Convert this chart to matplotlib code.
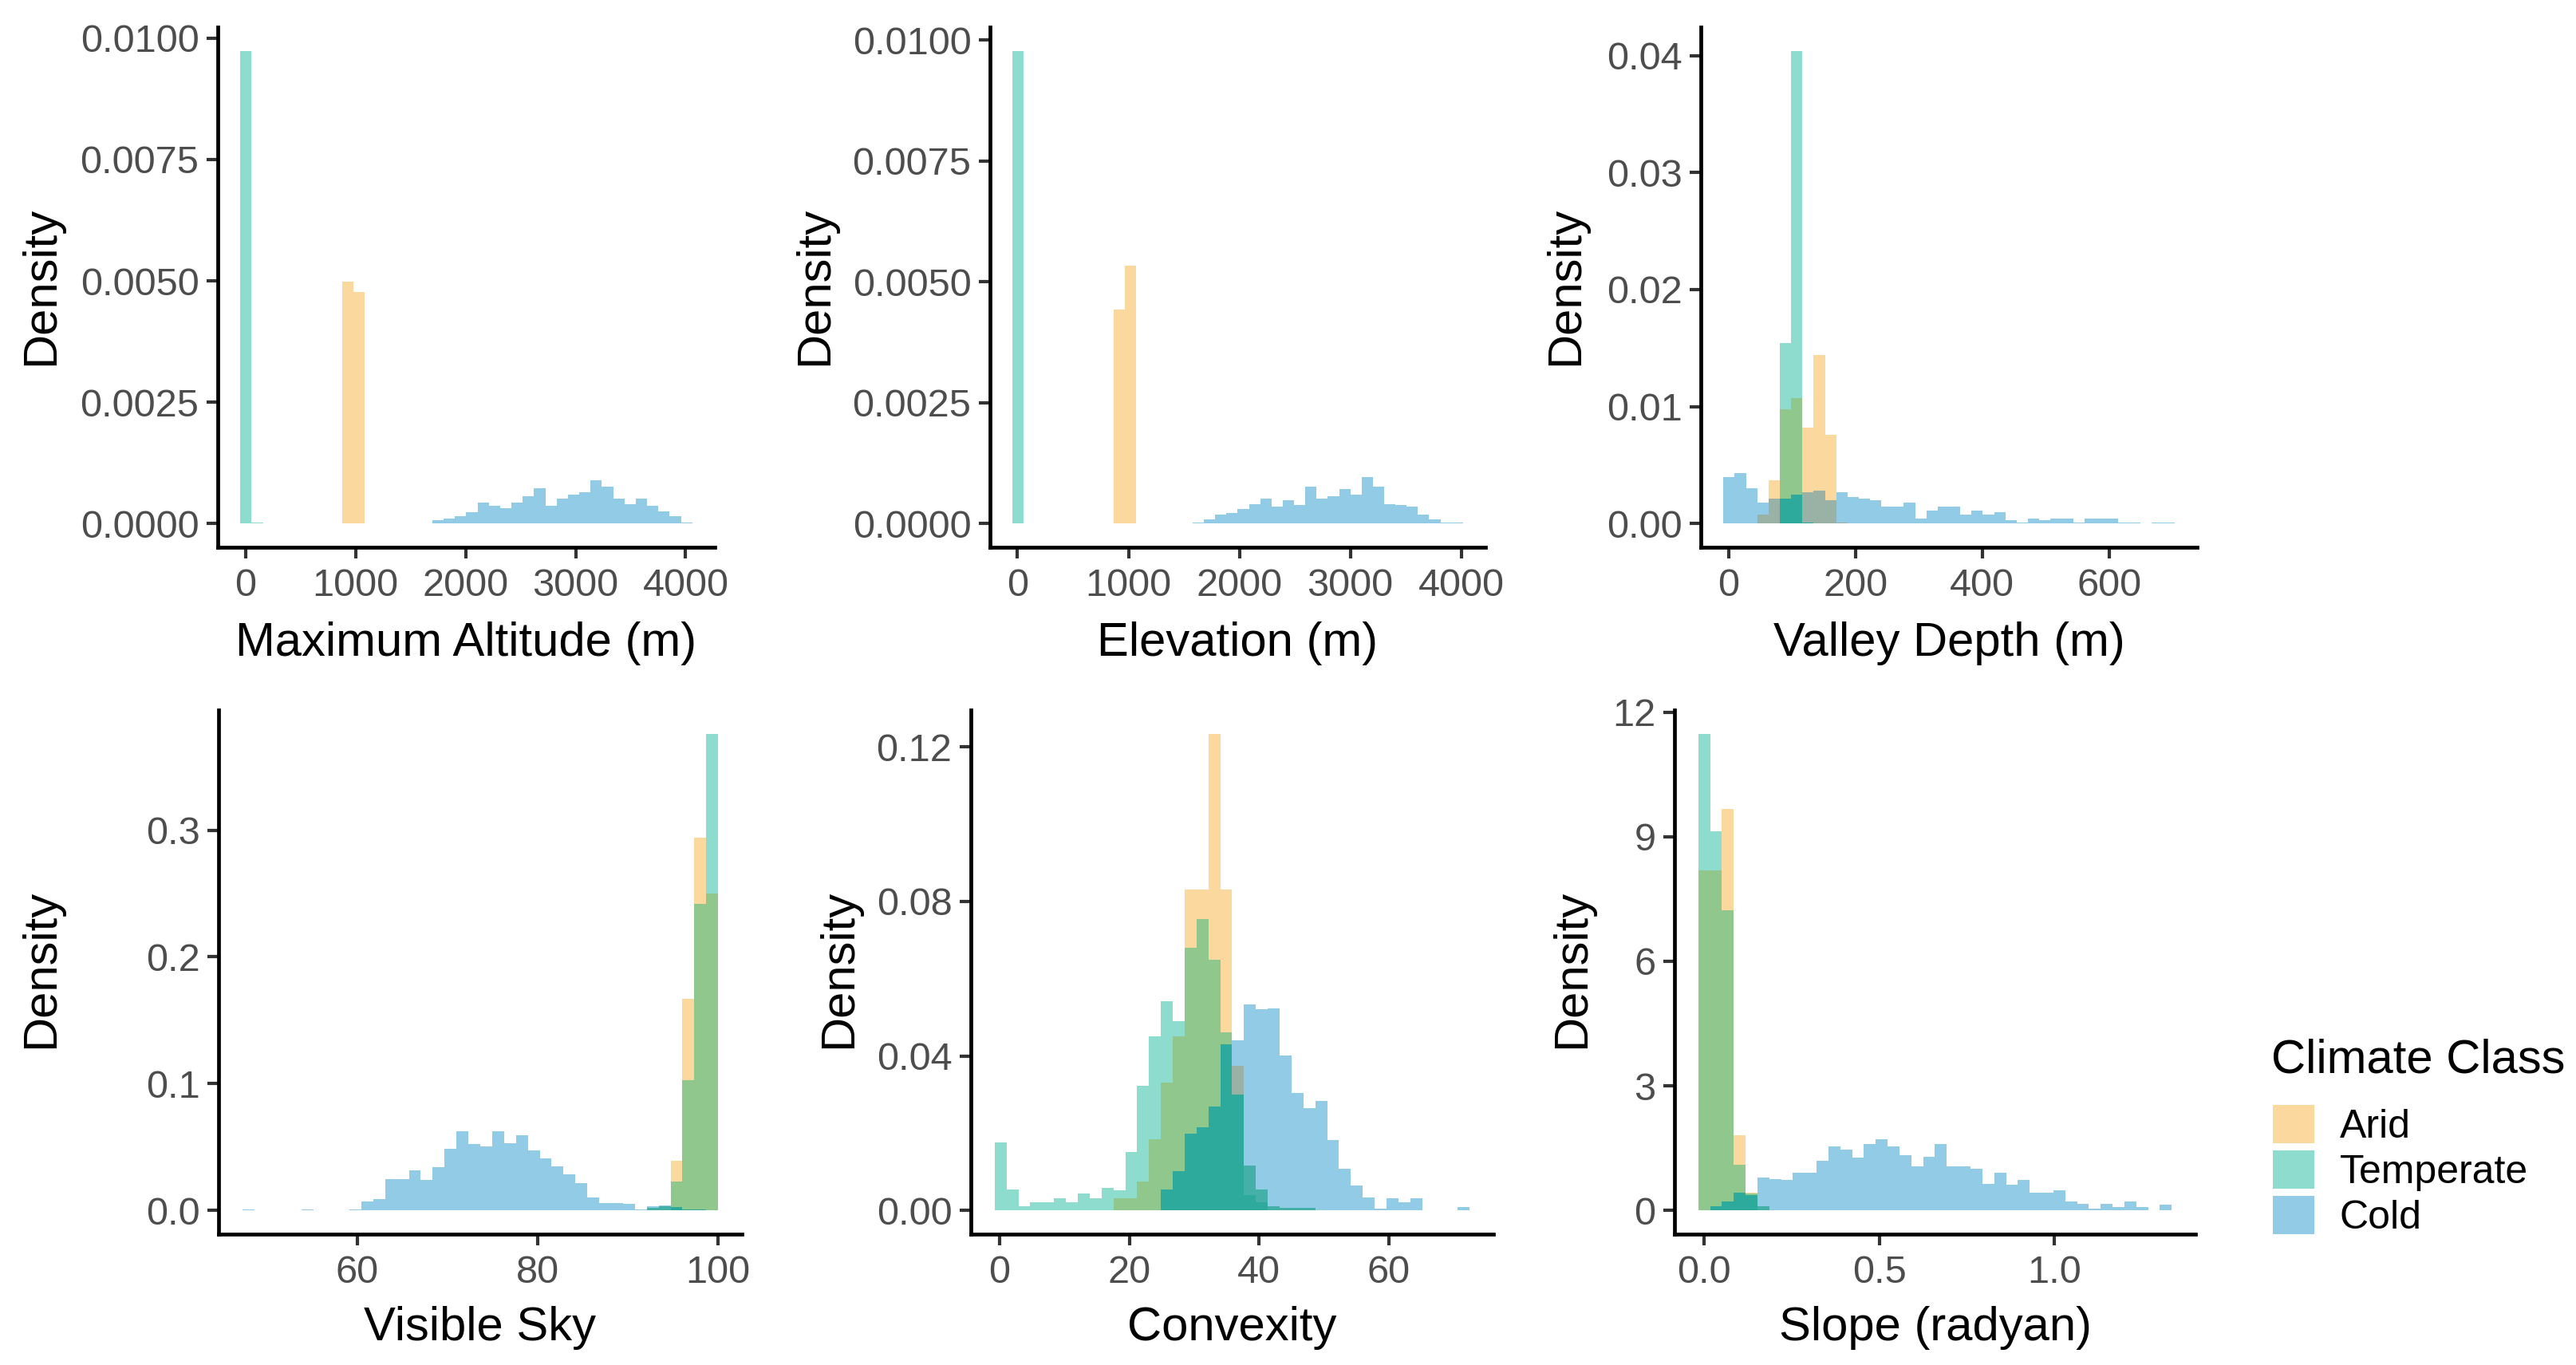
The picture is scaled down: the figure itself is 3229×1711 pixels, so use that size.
import matplotlib

matplotlib.use("Agg")

import matplotlib.pyplot as plt
import numpy as np
from matplotlib.patches import Patch

plt.rcParams["font.family"] = ["Liberation Sans", "DejaVu Sans"]

# ---- data: densities per bin (40 bins per panel) ----
classes = ["Arid", "Temperate", "Cold"]

# Maximum Altitude (m)
alt_range = (-48, 4060)
alt_arid = [0] * 9 + [0.00499, 0.00477] + [0] * 29
alt_temperate = [0.00974, 0.00003] + [0] * 38
alt_cold = [0] * 17 + [0.000066, 0.0001, 0.00015, 0.00024, 0.00043, 0.00036, 0.00032, 0.00043,
                       0.00056, 0.00073, 0.00036, 0.00052, 0.0006, 0.00065, 0.00089, 0.00077,
                       0.00052, 0.0004, 0.00052, 0.00036, 0.00026, 0.00015, 0.00002]

# Elevation (m)
elev_range = (-45, 4015)
elev_arid = [0] * 9 + [0.00443, 0.00533] + [0] * 29
elev_temperate = [0.00978] + [0] * 39
elev_cold = [0] * 16 + [0.00002, 0.00009, 0.00018, 0.00022, 0.0003, 0.0004, 0.00052, 0.00036,
                        0.00048, 0.00039, 0.00076, 0.00052, 0.00056, 0.00072, 0.0006, 0.00097,
                        0.00076, 0.0004, 0.00038, 0.00036, 0.00018, 0.00009, 0.00002, 0.00002]

# Valley Depth (m)
valley_range = (-8, 703)
valley_arid = [0, 0, 0, 0.0008, 0.0037, 0.0098, 0.0107, 0.0082, 0.01444, 0.0076, 0.0001] + [0] * 29
valley_temperate = [0, 0, 0, 0, 0, 0.01546, 0.0404, 0.0001] + [0] * 32
valley_cold = [0.004, 0.00435, 0.003, 0.0018, 0.00215, 0.00215, 0.0025, 0.0027, 0.0028, 0.002,
               0.0027, 0.0023, 0.00215, 0.002, 0.00147, 0.00147, 0.0018, 0.00045, 0.0011, 0.00147,
               0.00147, 0.0008, 0.0011, 0.0008, 0.001, 0.00027, 0.0001, 0.00045, 0.00027, 0.00045,
               0.00045, 0.0001, 0.00045, 0.00045, 0.00045, 0.0001, 0.0001, 0, 0.0001, 0.0001]

# Visible Sky
sky_range = (47.25, 100.05)
sky_arid = [0] * 36 + [0.039, 0.167, 0.294, 0.25]
sky_temperate = [0] * 34 + [0.002, 0.003, 0.0226, 0.103, 0.242, 0.376]
sky_cold = [0.0008, 0, 0, 0, 0, 0.0008, 0, 0, 0, 0.0008,
            0.007, 0.0087, 0.0244, 0.0244, 0.0313, 0.0237, 0.0338, 0.0487, 0.0627, 0.0522,
            0.0505, 0.0627, 0.0529, 0.0592, 0.047, 0.0407, 0.0348, 0.0285, 0.0216, 0.0104,
            0.0059, 0.0059, 0.0052, 0.0007, 0.003, 0.004, 0.0024, 0.001, 0.0007, 0.0003]

# Convexity
conv_range = (-0.75, 72.45)
conv_arid = [0] * 10 + [0.0032, 0.0032, 0.0075, 0.0185, 0.033, 0.045, 0.083, 0.083, 0.1234, 0.083,
                        0.0375, 0.004, 0.002] + [0] * 17
conv_temperate = [0.0175, 0.0054, 0.0011, 0.0021, 0.0021, 0.0031, 0.0021, 0.0044, 0.0031, 0.0058,
                  0.0051, 0.0151, 0.0323, 0.045, 0.0541, 0.049, 0.068, 0.0755, 0.065, 0.046,
                  0.030, 0.0116, 0.0054, 0.001, 0.0007, 0.0007, 0.0007] + [0] * 13
conv_cold = [0] * 14 + [0.0054, 0.0102, 0.0199, 0.0216, 0.0268, 0.043, 0.044, 0.0533, 0.0521, 0.0524,
                        0.0401, 0.0304, 0.0264, 0.0283, 0.0183, 0.0107, 0.0065, 0.0034, 0.0005, 0.0031,
                        0.0021, 0.0031, 0, 0, 0, 0.0009]

# Slope (radyan)
slope_range = (-0.017, 1.335)
slope_arid = [8.2, 8.2, 9.67, 1.8, 0.43] + [0] * 35
slope_temperate = [11.48, 9.14, 7.22, 1.1, 0.4, 0.1] + [0] * 34
slope_cold = [0, 0.1, 0.21, 0.43, 0.37, 0.8, 0.76, 0.74, 0.9, 0.9,
              1.19, 1.54, 1.46, 1.28, 1.59, 1.72, 1.54, 1.33, 1.06, 1.3,
              1.59, 1.06, 1.06, 1.01, 0.64, 0.9, 0.61, 0.74, 0.43, 0.43,
              0.48, 0.21, 0.16, 0.05, 0.16, 0.07, 0.21, 0.07, 0, 0.13]

# ticks
alt_xticks = [0, 1000, 2000, 3000, 4000]
alt_yticks = [0, 0.0025, 0.005, 0.0075, 0.01]
alt_ylabels = ["0.0000", "0.0025", "0.0050", "0.0075", "0.0100"]
valley_xticks = [0, 200, 400, 600]
valley_yticks = [0, 0.01, 0.02, 0.03, 0.04]
valley_ylabels = ["0.00", "0.01", "0.02", "0.03", "0.04"]
sky_xticks = [60, 80, 100]
sky_yticks = [0, 0.1, 0.2, 0.3]
sky_ylabels = ["0.0", "0.1", "0.2", "0.3"]
conv_xticks = [0, 20, 40, 60]
conv_yticks = [0, 0.04, 0.08, 0.12]
conv_ylabels = ["0.00", "0.04", "0.08", "0.12"]
slope_xticks = [0, 0.5, 1.0]
slope_xlabels = ["0.0", "0.5", "1.0"]
slope_yticks = [0, 3, 6, 9, 12]

# colours for each combination of overlapping classes
SET_COLORS = {
    "A": "#FBD89E",
    "T": "#8EDCCE",
    "C": "#92CBE6",
    "AT": "#8FC78D",
    "AC": "#9AB2A6",
    "TC": "#45B0A8",
    "ATC": "#2DAA9C",
}

W, H = 3230, 1711
fig = plt.figure(figsize=(W / 100, H / 100), dpi=100)
fig.patch.set_facecolor("white")


def draw_panel(ax, rng, arid, temperate, cold):
    lo, hi = rng
    edges = np.linspace(lo, hi, len(arid) + 1)
    series = {"A": np.asarray(arid, float), "T": np.asarray(temperate, float),
              "C": np.asarray(cold, float)}
    for i in range(len(edges) - 1):
        levels = sorted(set([0.0] + [float(v[i]) for v in series.values()]))
        for bottom, top in zip(levels[:-1], levels[1:]):
            key = "".join(k for k in "ATC" if series[k][i] >= top)
            ax.bar(edges[i], top - bottom, width=edges[i + 1] - edges[i], bottom=bottom,
                   align="edge", color=SET_COLORS[key], linewidth=0, antialiased=False)
    xr = hi - lo
    ax.set_xlim(lo - 0.05 * xr, hi + 0.05 * xr)
    ymax = max(max(arid), max(temperate), max(cold))
    ax.set_ylim(-0.05 * ymax, 1.05 * ymax)


def style(ax, xlabel, xticks, yticks, ylabels, xlabels=None, ylab_x=0, ylab_y=0, xlab_y=0):
    ax.set_xticks(xticks)
    if xlabels is not None:
        ax.set_xticklabels(xlabels)
    ax.set_yticks(yticks)
    ax.set_yticklabels(ylabels)
    ax.spines["top"].set_visible(False)
    ax.spines["right"].set_visible(False)
    for s in ("left", "bottom"):
        ax.spines[s].set_linewidth(3.4)
        ax.spines[s].set_color("black")
    ax.tick_params(length=10, width=3, color="#333333", labelsize=35, labelcolor="#4D4D4D")
    ax.tick_params(axis="x", pad=9)
    ax.tick_params(axis="y", pad=7)
    # axis titles, aligned across the grid as in the original layout
    bb = ax.get_position()
    fig.text((bb.x0 + bb.x1) / 2, 1 - xlab_y / H, xlabel, fontsize=43,
             ha="center", va="center")
    fig.text(ylab_x / W, 1 - ylab_y / H, "Density", fontsize=43, rotation=90,
             ha="center", va="center")


def add_ax(x0, x1, y0, y1):
    return fig.add_axes([x0 / W, 1 - y1 / H, (x1 - x0) / W, (y1 - y0) / H])


ax1 = add_ax(273, 896, 34, 686)
draw_panel(ax1, alt_range, alt_arid, alt_temperate, alt_cold)
style(ax1, "Maximum Altitude (m)", alt_xticks, alt_yticks, alt_ylabels,
      ylab_x=52, ylab_y=358, xlab_y=806)

ax2 = add_ax(1241, 1862, 34, 686)
draw_panel(ax2, elev_range, elev_arid, elev_temperate, elev_cold)
style(ax2, "Elevation (m)", alt_xticks, alt_yticks, alt_ylabels,
      ylab_x=1022, ylab_y=358, xlab_y=806)

ax3 = add_ax(2132, 2754, 34, 686)
draw_panel(ax3, valley_range, valley_arid, valley_temperate, valley_cold)
style(ax3, "Valley Depth (m)", valley_xticks, valley_yticks, valley_ylabels,
      ylab_x=1963, ylab_y=358, xlab_y=806)

ax4 = add_ax(274, 930, 890, 1547)
draw_panel(ax4, sky_range, sky_arid, sky_temperate, sky_cold)
style(ax4, "Visible Sky", sky_xticks, sky_yticks, sky_ylabels,
      ylab_x=52, ylab_y=1214, xlab_y=1664)

ax5 = add_ax(1217, 1872, 890, 1547)
draw_panel(ax5, conv_range, conv_arid, conv_temperate, conv_cold)
style(ax5, "Convexity", conv_xticks, conv_yticks, conv_ylabels,
      ylab_x=1052, ylab_y=1214, xlab_y=1664)

ax6 = add_ax(2099, 2752, 890, 1547)
draw_panel(ax6, slope_range, slope_arid, slope_temperate, slope_cold)
style(ax6, "Slope (radyan)", slope_xticks, slope_yticks, [str(v) for v in slope_yticks],
      xlabels=slope_xlabels, ylab_x=1971, ylab_y=1214, xlab_y=1664)

# shared legend on the right
fig.text(2847 / W, 1 - 1329 / H, "Climate Class", fontsize=43, ha="left", va="center")
handles = [Patch(facecolor=SET_COLORS[k], edgecolor="none") for k in ("A", "T", "C")]
leg = fig.legend(handles, classes, loc="upper left",
                 bbox_to_anchor=(2849 / W, 1 - 1385 / H), frameon=False,
                 fontsize=36, handlelength=1.05, handleheight=1.1,
                 labelspacing=0.12, handletextpad=0.62,
                 borderpad=0, borderaxespad=0)

fig.savefig("out.png", dpi=100, facecolor="white")
